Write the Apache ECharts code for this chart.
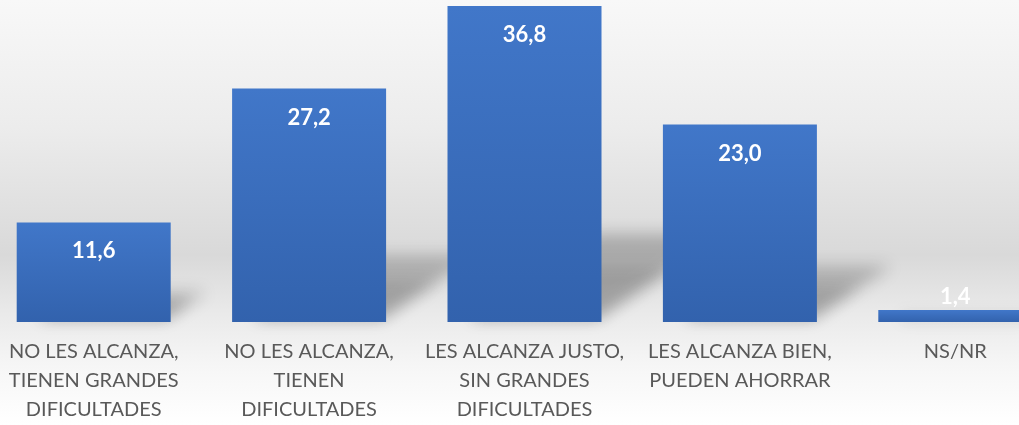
<!DOCTYPE html>
<html>
<head>
<meta charset="utf-8">
<script src="https://cdn.jsdelivr.net/npm/echarts@6/dist/echarts.min.js"></script>
<style>
html,body{margin:0;padding:0;overflow:hidden;width:1019px;height:425px;background:#fff;}
#chart{width:1077px;height:425px;margin-left:-14px;}
</style>
</head>
<body>
<div id="chart"></div>
<script>
const categories = [
  "NO LES ALCANZA,\nTIENEN GRANDES\nDIFICULTADES",
  "NO LES ALCANZA,\nTIENEN\nDIFICULTADES",
  "LES ALCANZA JUSTO,\nSIN GRANDES\nDIFICULTADES",
  "LES ALCANZA BIEN,\nPUEDEN AHORRAR",
  "NS/NR"
];
const values = [11.6, 27.2, 36.8, 23.0, 1.4];

const chart = echarts.init(document.getElementById('chart'));
const BAR_W = 154;
const SHIFT = 3000;
const barColor = new echarts.graphic.LinearGradient(0, 0, 0, 1, [
  {offset: 0, color: '#4177c9'},
  {offset: 1, color: '#3262ad'}
]);
const data = values.map(v => {
  const item = {value: v};
  if (v < 5) {
    item.label = {position: 'top', distance: 2};
  }
  return item;
});
chart.setOption({
  backgroundColor: new echarts.graphic.LinearGradient(0, 0, 0, 1, [
    {offset: 0, color: '#f8f8f8'},
    {offset: 0.3, color: '#ececec'},
    {offset: 0.6, color: '#d9d9d9'},
    {offset: 0.73, color: '#e9e9e9'},
    {offset: 0.86, color: '#f6f6f6'},
    {offset: 1, color: '#ffffff'}
  ]),
  animation: false,
  grid: {left: 0, right: 0, top: 6, bottom: 103, containLabel: false},
  xAxis: {
    type: 'category',
    data: categories,
    axisLine: {show: false},
    axisTick: {show: false},
    axisLabel: {
      interval: 0,
      margin: 15,
      color: '#595959',
      fontFamily: 'Lato',
      fontSize: 20,
      lineHeight: 29,
      align: 'center'
    }
  },
  yAxis: {
    type: 'value',
    min: 0,
    max: 36.8,
    show: false,
    splitLine: {show: false}
  },
  series: [{
    type: 'custom',
    z: 1,
    silent: true,
    clip: false,
    data: values,
    renderItem: function (params, api) {
      const base = api.coord([api.value(0), 0]);
      const top = api.coord([api.value(0), api.value(1)]);
      const h = base[1] - top[1];
      const B = base[1] - 3;
      const L = base[0] - BAR_W / 2 + 20, R = base[0] + BAR_W / 2 - 4;
      const dx = 0.4 * h, dy = 0.27 * h;
      const pts = [[L, B], [R, B], [R + dx, B - dy], [L + dx, B - dy]]
        .map(p => [p[0] - SHIFT, p[1]]);
      const ptsNear = [[L, B], [R, B], [R + dx * 0.6, B - dy * 0.6], [L + dx * 0.6, B - dy * 0.6]]
        .map(p => [p[0] - SHIFT, p[1]]);
      return {
        type: 'group',
        children: [{
          type: 'polygon',
          shape: {points: pts},
          style: {
            fill: '#000',
            shadowBlur: 16,
            shadowOffsetX: SHIFT,
            shadowColor: 'rgba(0,0,0,0.22)'
          }
        }, {
          type: 'polygon',
          shape: {points: ptsNear},
          style: {
            fill: '#000',
            shadowBlur: 14,
            shadowOffsetX: SHIFT,
            shadowColor: 'rgba(0,0,0,0.1)'
          }
        }]
      };
    },
    encode: {x: 0, y: 1}
  }, {
    type: 'bar',
    z: 2,
    data: data,
    barWidth: BAR_W,
    barGap: '-100%',
    itemStyle: {color: barColor},
    label: {
      show: true,
      position: 'insideTop',
      distance: 18,
      color: '#ffffff',
      fontFamily: 'Lato',
      fontWeight: 'bold',
      fontSize: 22,
      formatter: p => p.value.toFixed(1).replace('.', ',')
    }
  }]
});
</script>
</body>
</html>
